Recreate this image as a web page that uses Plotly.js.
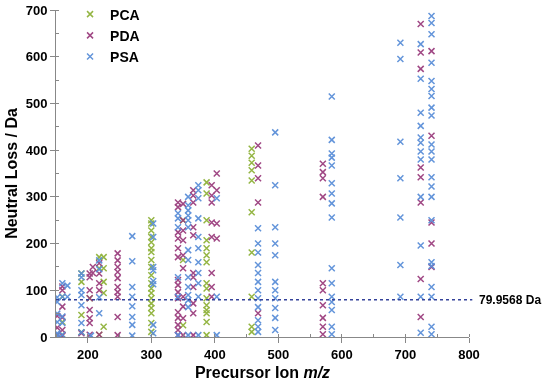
<!DOCTYPE html>
<html>
<head>
<meta charset="utf-8">
<script src="https://cdn.plot.ly/plotly-3.0.1.min.js"></script>
<style>html,body{margin:0;padding:0;background:#fff;}#chart{width:550px;height:381px;}</style>
</head>
<body>
<div id="chart"></div>
<script>
// Series names
const seriesNames = ["PCA", "PDA", "PSA"];
const seriesColors = ["#8fb23a", "#9b3e7e", "#5b8fd8"];

// Each point: [precursor m/z, neutral loss (Da)]
const pcaPoints = [
  [160,86],[160,32],[160,5],
  [190,136],[190,118],[190,47],[190,10],
  [203,83],
  [218,171],[218,147],[218,5],
  [225,171],[225,147],[225,118],[225,94],[225,22],
  [300,250],[300,243],[300,228],[300,214],[300,203],[300,190],[300,182],[300,165],[300,150],[300,132],
  [300,115],[300,104],[300,94],[300,83],[300,72],[300,62],[300,51],[300,30],[300,11],
  [350,250],[350,165],[350,25],
  [387,331],[387,307],[387,250],[387,207],[387,190],[387,175],[387,160],[387,115],[387,104],[387,83],
  [387,68],[387,58],[387,51],[387,32],[387,4],
  [458,403],[458,388],[458,373],[458,357],[458,335],[458,267],[458,181],[458,86],[458,22],[458,11]
];
const pdaPoints = [
  [152,45],[152,20],[152,5],
  [160,108],[160,100],[160,65],[160,42],[160,15],[160,3],
  [190,8],
  [203,136],[203,128],[203,100],[203,83],[203,58],[203,40],[203,30],[203,5],
  [208,150],[208,137],
  [218,158],[218,136],[218,115],[218,100],[218,5],
  [247,179],[247,164],[247,150],[247,139],[247,126],[247,107],[247,96],[247,86],[247,43],[247,4],
  [342,288],[342,278],[342,224],[342,211],[342,190],[342,171],[342,122],[342,111],[342,96],[342,83],
  [342,53],[342,41],[342,26],[342,15],[342,4],
  [350,285],[350,250],[350,228],[350,207],[350,175],[350,147],[350,86],[350,65],[350,40],[350,4],
  [366,314],[366,303],[366,288],[366,235],[366,218],[366,137],[366,128],[366,107],[366,72],[366,51],[366,4],
  [395,325],[395,303],[395,288],[395,245],[395,214],[395,137],[395,107],[395,86],
  [403,350],[403,314],[403,243],[403,211],
  [468,410],[468,367],[468,340],[468,288],[468,51],
  [570,371],[570,353],[570,340],[570,300],[570,115],[570,100],[570,68],[570,41],[570,22],[570,6],
  [724,670],[724,609],[724,574],[724,363],[724,342],[724,288],[724,124],[724,43],
  [741,612],[741,431],[741,245],[741,200],[741,150]
];
const psaPoints = [
  [152,85],[152,75],[152,50],[152,32],[152,8],[152,3],
  [160,115],[160,86],[160,44],[160,30],[160,5],
  [168,110],[168,86],
  [190,136],[190,128],[190,100],[190,90],[190,68],[190,30],[190,10],
  [205,3],
  [218,164],[218,145],[218,85],[218,51],
  [270,216],[270,162],[270,107],[270,86],[270,66],[270,43],[270,26],[270,3],
  [303,243],[303,214],[303,150],[303,143],[303,120],[303,113],[303,26],[303,8],
  [342,265],[342,254],[342,235],[342,128],[342,86],[342,4],
  [358,300],[358,282],[358,271],[358,260],[358,250],[358,235],[358,186],[358,165],[358,128],[358,107],
  [358,90],[358,79],[358,64],[358,4],
  [374,325],[374,314],[374,297],[374,254],[374,214],[374,190],[374,160],[374,137],[374,115],[374,86],[374,4],
  [403,297],[403,86],[403,4],
  [468,233],[468,200],[468,181],[468,154],[468,137],[468,118],[468,100],[468,83],[468,64],[468,36],[468,22],[468,11],
  [495,438],[495,325],[495,235],[495,200],[495,175],[495,118],[495,100],[495,83],[495,62],[495,41],[495,15],
  [584,515],[584,422],[584,393],[584,384],[584,367],[584,329],[584,307],[584,286],[584,256],[584,147],
  [584,115],[584,86],[584,75],[584,58],[584,22],[584,6],
  [692,630],[692,595],[692,418],[692,340],[692,256],[692,154],[692,86],
  [724,627],[724,553],[724,480],[724,452],[724,427],[724,416],[724,397],[724,380],[724,300],[724,196],[724,86],[724,9],
  [741,687],[741,672],[741,648],[741,587],[741,548],[741,531],[741,516],[741,491],[741,474],[741,412],
  [741,397],[741,380],[741,342],[741,322],[741,300],[741,250],[741,160],[741,152],[741,107],[741,86],[741,22],[741,6]
];

// Reference line
const refLoss = 79.9568;
const refLabel = "79.9568 Da";

// Axis ticks
const xTicks = [200, 300, 400, 500, 600, 700, 800];
const yTicks = [0, 100, 200, 300, 400, 500, 600, 700];

const allPoints = [pcaPoints, pdaPoints, psaPoints];
const traces = allPoints.map((pts, i) => ({
  type: "scatter",
  mode: "markers",
  name: seriesNames[i],
  x: pts.map(p => p[0]),
  y: pts.map(p => p[1]),
  marker: {
    symbol: "x-thin",
    size: 6,
    color: seriesColors[i],
    line: {color: seriesColors[i], width: 1.5}
  },
  opacity: 0.95
}));

const fontFam = "Liberation Sans, Arial, sans-serif";
const axisCommon = {
  showgrid: false,
  zeroline: false,
  showline: true,
  linecolor: "#888",
  linewidth: 1,
  ticks: "outside",
  ticklen: 5,
  tickcolor: "#888",
  tickfont: {family: fontFam, size: 13, color: "#000", weight: "bold"},
  fixedrange: true
};

const layout = {
  width: 550,
  height: 381,
  margin: {l: 56, r: 81, t: 10, b: 44, autoexpand: false},
  paper_bgcolor: "#fff",
  plot_bgcolor: "#fff",
  showlegend: true,
  legend: {
    x: 0.034, y: 1.035, xanchor: "left", yanchor: "top",
    bgcolor: "rgba(0,0,0,0)",
    font: {family: fontFam, size: 14, color: "#000", weight: "bold"},
    tracegroupgap: 0
  },
  xaxis: Object.assign({}, axisCommon, {
    range: [150, 800],
    tickvals: xTicks,
    minor: {dtick: 50, tick0: 0, ticks: "inside", ticklen: 3, tickcolor: "#888"},
    title: {text: "Precursor Ion <i>m/z</i>", standoff: 6,
      font: {family: fontFam, size: 16, color: "#000", weight: "bold"}}
  }),
  yaxis: Object.assign({}, axisCommon, {
    range: [0, 700],
    tickvals: yTicks,
    minor: {dtick: 50, tick0: 0, ticks: "inside", ticklen: 3, tickcolor: "#888"},
    title: {text: "Neutral Loss / Da", standoff: 4,
      font: {family: fontFam, size: 16, color: "#000", weight: "bold"}}
  }),
  shapes: [{
    type: "line", xref: "paper", yref: "y",
    x0: 0, x1: 1.008, y0: refLoss, y1: refLoss,
    line: {color: "#34429a", width: 1.5, dash: "dot"}
  }],
  annotations: [{
    xref: "paper", yref: "y", x: 1.02, y: refLoss,
    xanchor: "left", yanchor: "middle", showarrow: false,
    text: refLabel,
    font: {family: fontFam, size: 12, color: "#000", weight: "bold"}
  }]
};

Plotly.newPlot("chart", traces, layout, {staticPlot: true, displayModeBar: false});
</script>
</body>
</html>
